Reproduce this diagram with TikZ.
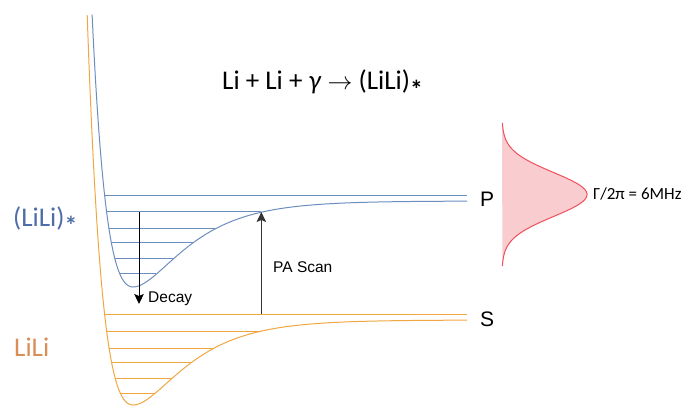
\documentclass[tikz,border=0pt]{standalone}
\usepackage{fontspec}
\usepackage{graphicx}
\setmainfont{Carlito}
\newfontfamily\arialf{Liberation Sans}
\usetikzlibrary{arrows.meta}
\definecolor{pblue}{HTML}{6C8EBF}
\definecolor{sorange}{HTML}{F0A742}
\definecolor{lblue}{HTML}{4F6EA8}
\definecolor{lorange}{HTML}{D98E55}
\definecolor{gfill}{HTML}{F9CCCF}
\definecolor{gline}{HTML}{F0505C}
\definecolor{pagray}{HTML}{333333}
\newcommand\lowstar{\raisebox{-0.3em}{\scalebox{0.95}{\textbf{*}}}}
\begin{document}
\begin{tikzpicture}[x=1pt,y=-1pt,
  bluecurve/.style={pblue, line width=1pt},
  orangecurve/.style={sorange, line width=1pt},
  arrowline/.style={line width=1pt, -{Stealth[length=10pt,width=9.5pt,inset=2pt]}},
  lbl/.style={anchor=base west, inner sep=0pt},
  bigfont/.style={font=\fontsize{27}{32}\selectfont},
  smallarial/.style={font=\arialf\fontsize{15.5}{18}\selectfont}
]
\useasboundingbox (0,0) rectangle (699,406);

% orange (ground) potential: min (133,405), depth 85
\draw[orangecurve] plot[domain=87.2:133,samples=140] (\x,{405-85*(1-exp(-0.025*(\x-133)))*(1-exp(-0.025*(\x-133)))})
  -- plot[domain=133:467,samples=160] (\x,{405-85*(1-exp(-0.021*(\x-133)))*(1-exp(-0.021*(\x-133)))});
% blue (excited) potential: min (133,287), depth 86
\draw[bluecurve] plot[domain=92.1:133,samples=140] (\x,{287-86*(1-exp(-0.025*(\x-133)))*(1-exp(-0.025*(\x-133)))})
  -- plot[domain=133:467,samples=160] (\x,{287-86*(1-exp(-0.021*(\x-133)))*(1-exp(-0.021*(\x-133)))});

% orange levels
\foreach \yl in {331,348,362,378,393} {
  \pgfmathsetmacro\s{sqrt((405-\yl)/85)}
  \pgfmathsetmacro\xl{133-ln(1+\s)/0.025}
  \pgfmathsetmacro\xr{133-ln(1-\s)/0.021}
  \draw[orangecurve] (\xl,\yl) -- (\xr,\yl);
}
\pgfmathsetmacro\xs{133-ln(1+sqrt(91/85))/0.025}
\draw[orangecurve] (\xs,314) -- (467,314);

% blue levels
\foreach \yl in {212,229,243,259,274} {
  \pgfmathsetmacro\s{sqrt((287-\yl)/86)}
  \pgfmathsetmacro\xl{133-ln(1+\s)/0.025}
  \pgfmathsetmacro\xr{133-ln(1-\s)/0.021}
  \draw[bluecurve] (\xl,\yl) -- (\xr,\yl);
}
\pgfmathsetmacro\xp{133-ln(1+sqrt(91/86))/0.025}
\draw[bluecurve] (\xp,196) -- (467,196);

% arrows
\pgfmathsetmacro\xpa{133-ln(1-sqrt(75/86))/0.021}
\coordinate (decayS) at (139,212);
\coordinate (decayE) at (139,304);
\coordinate (paS) at (\xpa,314);
\coordinate (paE) at (\xpa,212);
\draw[arrowline, black] (decayS) -- (decayE);
\draw[arrowline, pagray] (paS) -- (paE);

% line profile
\fill[gfill] (502,123) -- plot[domain=123:266,samples=150] ({502+85*exp(-(\x-194.5)*(\x-194.5)/968)},\x) -- cycle;
\draw[gline, line width=1pt] plot[domain=123:266,samples=150] ({502+85*exp(-(\x-194.5)*(\x-194.5)/968)},\x);

% labels
\node[lbl, font=\fontsize{27}{32}\selectfont] (title) at (222,90) {Li + Li + \textit{γ} $\rightarrow$ (LiLi)\lowstar};
\node[lbl, bigfont, text=lblue] (exlbl) at (13,226.7) {(LiLi)\lowstar};
\node[lbl, bigfont, text=lorange] (gslbl) at (14,356) {LiLi};
\node[lbl, font=\arialf\fontsize{21}{25}\selectfont] (Plbl) at (480,206.5) {P};
\node[lbl, font=\arialf\fontsize{21}{25}\selectfont] (Slbl) at (480,326.3) {S};
\node[lbl, smallarial] (palbl) at (273,272.7) {PA Scan};
\node[lbl, smallarial] (decaylbl) at (148,302) {Decay};
\node[lbl, font=\fontsize{17}{20}\selectfont] (gamma) at (593,200) {Γ/2π = 6MHz};
\end{tikzpicture}
\end{document}
